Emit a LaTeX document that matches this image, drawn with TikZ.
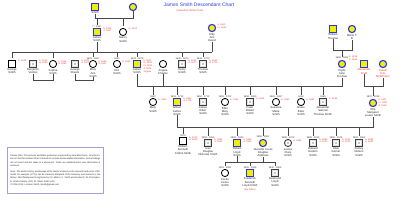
\documentclass[tikz,border=0pt]{standalone}
\usepackage{fontspec}
\setmainfont{Liberation Sans}
\definecolor{ttlblue}{HTML}{3340DD}
\definecolor{infored}{HTML}{E83A30}
\definecolor{ylw}{HTML}{F2EE00}
\definecolor{bdrblue}{HTML}{2A36E8}
\definecolor{notebdr}{HTML}{A79FD0}
\tikzset{
 base/.style={minimum size=6.6pt, inner sep=0pt, line width=0.85pt},
 ybox/.style={base, rectangle, fill=ylw, draw=bdrblue, line width=1.1pt},
 ycirc/.style={base, circle, fill=ylw, draw=bdrblue, line width=1.1pt, minimum size=7.2pt},
 pbox/.style={base, rectangle, fill=white, draw=black},
 pcirc/.style={base, circle, fill=white, draw=black, minimum size=7.2pt},
 gbox/.style={base, rectangle, fill=black!12, draw=black!75,
   path picture={\fill[white] ([shift={(1.4pt,1.4pt)}]path picture bounding box.south west) rectangle ([shift={(-1.4pt,-1.4pt)}]path picture bounding box.north east);
   \fill[black!45] (path picture bounding box.center) circle (0.9pt);}},
 lbl/.style={font=\fontsize{2.8}{3.15}\selectfont, align=center, inner sep=0pt, text=black!85},
 dts/.style={font=\fontsize{2.4}{2.8}\selectfont, inner sep=0pt, text=black!80},
 info/.style={font=\fontsize{2.3}{2.75}\selectfont, align=left, inner sep=0pt, text=infored},
 link/.style={draw=black!72, line width=0.9pt},
 ttlstyle/.style={font=\fontsize{5}{6}\selectfont, text=ttlblue, inner sep=0pt},
 substyle/.style={font=\fontsize{2.4}{3}\selectfont, text=infored, inner sep=0pt},
 notebox/.style={draw=notebdr, line width=0.7pt, fill=white, inner sep=3pt, text width=90pt, align=justify,
   font=\fontsize{2.25}{3.3}\selectfont, text=black!85}
}
% person: name, x, y, shape style, label, dates
\newcommand{\fp}[6]{%
 \node[#4] (#1) at (#2,-#3) {};
 \node[lbl, anchor=north] (#1l) at ([yshift=-0.8pt]#1.south) {#5};
 \node[dts, anchor=south] (#1d) at ([yshift=0.7pt]#1.north) {#6};
}
\newcommand{\infotxt}[2]{%
 \node[info, anchor=north west] (#1i) at ([xshift=2.5pt,yshift=1pt]#1.north east) {#2};
}
\newcommand{\dropto}[2]{\draw[link] (#2d.north |- #1) -- (#2d.north);}
\begin{document}
\begin{tikzpicture}[x=1pt,y=1pt]
\fill[white] (0,0) rectangle (400,-200);
\useasboundingbox (0,0) rectangle (400,-200);

\node[ttlstyle] (ttl) at (199,-5) {James Smith Descendant Chart};
\node[substyle] (sub) at (190,-10.5) {(Interactive Online Chart)};

% generation 0
\fp{p0a}{95}{7}{ybox}{Smith}{}
\fp{p0b}{133}{7}{ycirc}{}{}
% generation 1 heads
\fp{james1}{97}{32}{ybox}{James\\Smith}{? - 1667}
\infotxt{james1}{b. 1604\\d. 1667}
\fp{nancy}{123}{32}{pcirc}{Nancy\\Smith}{}
\infotxt{nancy}{m. 1624}
\fp{kitty}{212}{28}{ycirc}{Kitty\\Ann\\David}{}
\infotxt{kitty}{b. 1610\\m. 1640}

% generation 1 children
\fp{george}{12}{64}{pbox}{George\\Smith}{}
\infotxt{george}{b. 1625}
\fp{benjamin}{33}{64}{gbox}{Benjamin\\Verdun}{}
\infotxt{benjamin}{b. 1620\\d. 1680}
\fp{sophia}{53}{64}{pcirc}{Sophia\\Smith}{}
\infotxt{sophia}{b. 1624\\d. 1690}
\fp{gsheets}{75}{64}{gbox}{George\\Sheets}{}
\infotxt{gsheets}{b. 1622\\d. 1670}
\fp{maryann}{93}{64}{pcirc}{Mary\\Ann\\Smith}{1626 - 1667}
\infotxt{maryann}{b. 1626\\d. 1667}
\fp{eliz}{117}{64}{pcirc}{Eliz\\Smith}{1631}
\infotxt{eliz}{b. 1631}
\fp{james2}{137}{64}{ybox}{James\\Smith}{1633 - 1678}
\infotxt{james2}{b. 1633\\m. 1650\\m. 1660\\d. 1678\\Virginia}
\fp{angela}{163}{64}{pcirc}{Angela\\Charles}{}
\fp{henry}{182}{64}{gbox}{Henry\\Smith}{1640 - 1670}
\infotxt{henry}{b. 1640\\d. 1670}
\fp{thomas}{203}{64}{gbox}{Thomas\\Smith}{1642 - 1700}
\infotxt{thomas}{b. 1642\\d. 1700}

% right top
\fp{william}{333}{29}{ybox}{William\\Thomas}{}
\fp{maria}{352}{29}{ycirc}{Maria T.\\B}{}
\node[ycirc] (clyde) at (342,-64) {};
\node[lbl, anchor=north] (clydel) at ([yshift=-0.8pt]clyde.south) {Clyde\\Jane\\Thomas};
\node[dts, anchor=south] (clyded) at ([yshift=0.7pt]clyde.north) {1618 - 1682};
\node[info, anchor=north west] (clydei) at (349,-55.5) {b. 1618\\d. 1682};
\node[ybox] (alex) at (364,-64) {};
\node[lbl, text=infored, anchor=north] (alexl) at ([yshift=-0.8pt]alex.south) {Alexander\\Scott};
\node[ycirc] (daniel) at (383,-64) {};
\node[lbl, text=infored, anchor=north] (daniell) at ([yshift=-0.8pt]daniel.south) {Daniel\\H.G.\\McWhorter};
\fp{ella}{373}{103}{ycirc}{Ella\\Margaret\\Louise Smith}{1837 - 1918}
\infotxt{ella}{b. 1837\\m. 1855\\d. 1918}

% generation 2
\fp{mary}{153}{102}{pcirc}{Mary\\Smith}{1650}
\infotxt{mary}{b. 1650}
\fp{wilson}{177}{102}{ybox}{Wilson\\James\\Smith}{1651 - 1712}
\infotxt{wilson}{b. 1651\\d. 1712}
\fp{jamese}{203}{102}{gbox}{James\\Eden\\Smith}{1652 - 1712}
\fp{ellen}{225}{102}{pcirc}{Ellen\\Mary\\Smith}{1655 - 1702}
\infotxt{ellen}{b. 1655}
\fp{peter}{250}{102}{gbox}{Peter\\Robert\\Smith}{1658 - 1690}
\infotxt{peter}{b. 1658}
\fp{susanna}{276}{102}{pcirc}{Susanna\\Maria\\Smith}{1660 - 1697}
\infotxt{susanna}{b. 1660}
\fp{grace}{301}{102}{pcirc}{Grace\\Eliza\\Smith}{1662}
\infotxt{grace}{b. 1662}
\fp{samuel}{323}{102}{gbox}{Alexander\\Samuel\\Thomas Smith}{1665}
\infotxt{samuel}{b. 1665}

% generation 3
\fp{wk}{183}{141}{pbox}{William\\Kenneth\\Collins Smith}{1879}
\infotxt{wk}{b. 1879\\d. 1960}
\fp{ivan}{208}{143}{gbox}{Ivan\\Douglas\\Nicholas Smith}{1881 - 1950}
\infotxt{ivan}{b. 1881\\d. 1950}
\fp{robert}{237}{143}{ybox}{Robert\\Lloyd\\Smith}{1882 - 1940}
\infotxt{robert}{b. 1882\\d. 1940}
\fp{jeanette}{263}{143}{ycirc}{Jeanette Lucas\\Douglas\\Andrews}{1886 - 1962}
\fp{louise}{288}{143}{gbox,circle,minimum size=7.2pt}{Louise\\Clare\\Smith}{1888 - 1976}
\infotxt{louise}{b. 1888}
\fp{edward}{313}{143}{gbox}{Edward\\Gordon\\Smith}{1889 - 1913}
\infotxt{edward}{b. 1889\\d. 1913}
\fp{silas}{336}{143}{gbox}{Silas\\Gomer\\Smith}{1890 - 1976}
\infotxt{silas}{b. 1890\\d. 1976}
\fp{sidney}{359}{143}{gbox}{Sidney\\Nelson\\Smith}{1892 - 1962}
\infotxt{sidney}{b. 1892\\d. 1962}

% generation 4
\fp{cecile}{225}{173}{pcirc}{Cecile\\Ceree\\Smith}{1911 - 1991}
\fp{frederick}{250}{173}{ybox}{Frederick\\Kenneth\\Lloyd Smith}{1926 - 1946}
\node[info, anchor=north] (fredi) at ([yshift=-2pt]frederickl.south) {(My father)};
\fp{desmond}{275}{173}{gbox}{Desmond\\Lloyd\\Smith}{1932 - 1995}

% note
\node[notebox, anchor=north west, minimum height=46pt] (note) at (7,-147) {Please Note: The pictures and dates posted are supported by Sara Ellen Ross. All information on this Descendant Chart is based on records and available information. Some findings are not exact and the dates in a document. Dates are updated when new information is received.\par\vspace{2.6pt}
Note: The earlier history and lineage of the family is based on the research and notes of Mr. Smith, for example (1776), can be traced to Maryland of the Ancestry and research in the library. http://familysearch.org/ancestry/ St. Mark's, C. Smith and Frederick, W. Dorrington, E. Smith \& family (CO), M. Oliver Smith (UK).\\
\textcopyright{} 2006-2012, Lorraine Smith, lsmith@gmail.com};

% connectors
\coordinate (t0) at (0,-18);
\draw[link] (p0al.south) -- (p0al.south |- t0) -| (p0b.south);
\dropto{t0}{james1}
\dropto{t0}{nancy}

\coordinate (g1) at (0,-52);
\draw[link] (george.north |- g1) -- (kitty.south |- g1);
\draw[link] (james1l.south) -- (james1l.south |- g1);
\draw[link] (kittyl.south) -- (kittyl.south |- g1);
\dropto{g1}{george}
\dropto{g1}{sophia}
\dropto{g1}{maryann}
\dropto{g1}{eliz}
\dropto{g1}{james2}
\dropto{g1}{henry}
\dropto{g1}{thomas}

\coordinate (c1) at (0,-80);
\draw[link] (benjaminl.south) -- (benjaminl.south |- c1) -| (sophial.south);
\draw[link] (gsheetsl.south) -- (gsheetsl.south |- c1) -| (maryannl.south);

\coordinate (c2) at (0,-50);
\draw[link] (williaml.south) -- (williaml.south |- c2) -| (marial.south);
\dropto{c2}{clyde}

\coordinate (g2) at (0,-86);
\draw[link] (james2l.south) -- (james2l.south |- g2) -- (clydel.south |- g2) -- (clydel.south);
\draw[link] (angelal.south) -- (angelal.south |- g2);
\dropto{g2}{mary}
\dropto{g2}{wilson}
\dropto{g2}{jamese}
\dropto{g2}{ellen}
\dropto{g2}{peter}
\dropto{g2}{susanna}
\dropto{g2}{grace}
\dropto{g2}{samuel}

\coordinate (c3) at (0,-86);
\draw[link] (alexl.south) -- (alexl.south |- c3) -| (daniell.south);
\dropto{c3}{ella}

\coordinate (g3) at (0,-127);
\draw[link] (wilsonl.south) -- (wilsonl.south |- g3) -- (ellal.south |- g3) -- (ellal.south);
\dropto{g3}{wk}
\dropto{g3}{ivan}
\dropto{g3}{robert}
\dropto{g3}{jeanette}
\dropto{g3}{louise}
\dropto{g3}{edward}
\dropto{g3}{silas}
\dropto{g3}{sidney}

\coordinate (g4) at (0,-162);
\draw[link] (robertl.south) -- (robertl.south |- g4);
\draw[link] (jeanettel.south) -- (jeanettel.south |- g4);
\draw[link] (cecile.north |- g4) -- (desmond.north |- g4);
\dropto{g4}{cecile}
\dropto{g4}{frederick}
\dropto{g4}{desmond}
\end{tikzpicture}
\end{document}
